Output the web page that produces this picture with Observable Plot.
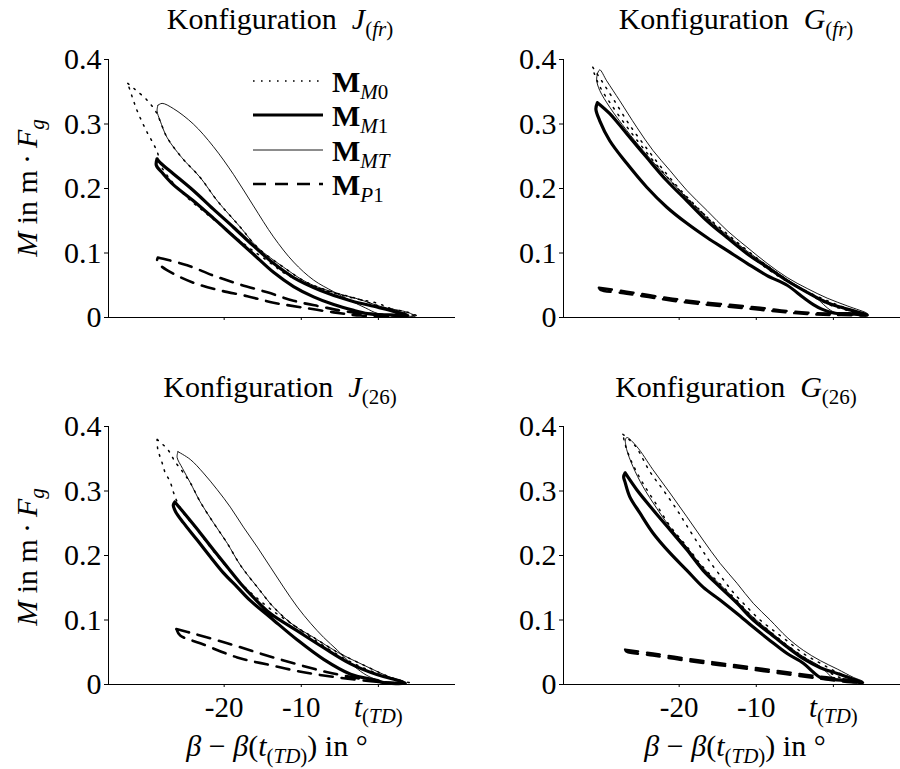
<!DOCTYPE html>
<html><head><meta charset="utf-8">
<script src="https://cdn.jsdelivr.net/npm/d3@7"></script>
<script src="https://cdn.jsdelivr.net/npm/@observablehq/plot@0.6"></script>
<style>
html,body{margin:0;padding:0;background:#fff;overflow:hidden;}
#fig{position:relative;width:900px;height:769px;overflow:hidden;font-family:"Liberation Serif","Times New Roman","DejaVu Serif",serif;color:#000;background:#fff;}
.abs{position:absolute;white-space:nowrap;line-height:30px;font-size:30px;}
.ctr{transform:translateX(-50%);}
.ylab{transform:translate(-50%,-50%) rotate(-90deg);}
sub{font-size:0.7em;vertical-align:-0.32em;line-height:0;}
.panel{position:absolute;}
</style></head><body><div id="fig"></div>
<script>
// ---- axis definitions ----
const xDomain = [-35, 10];
const yDomain = [0, 0.4];
const xTicks = [-20, -10, 0];
const xTickLabels = ["-20", "-10", "t(TD)"];
const yTicks = [0, 0.1, 0.2, 0.3, 0.4];
const yTickLabels = ["0", "0.1", "0.2", "0.3", "0.4"];
const seriesNames = ["M0", "M1", "MT", "P1"];

// ---- Konfiguration J_(fr) ----
const jfr_M0 = [[-32.5,0.363],[-31.6,0.354],[-30.0,0.337],[-28.8,0.318],[-28.1,0.298],[-27.4,0.279],[-25.5,0.248],[-23.1,0.217],[-20.9,0.181],[-17.9,0.140],[-15.7,0.109],[-12.3,0.078],[-9.2,0.054],[-5.8,0.039],[-2.7,0.029],[0.6,0.016],[3.8,0.008],[5.1,0.002],
  [2.0,0.012],[-0.1,0.022],[-3.6,0.031],[-7.9,0.046],[-11.8,0.066],[-14.4,0.088],[-17.0,0.110],[-19.6,0.135],[-22.2,0.160],[-24.8,0.186],[-27.0,0.214],[-28.3,0.238],[-28.6,0.254],[-29.2,0.270],[-29.9,0.285],[-30.6,0.302],[-31.3,0.321],[-31.9,0.341]];
const jfr_M1 = [[-28.7,0.246],[-28.3,0.240],[-26.6,0.223],[-24.0,0.197],[-21.4,0.168],[-18.8,0.140],[-16.2,0.111],[-13.6,0.084],[-11.0,0.062],[-7.5,0.042],[-3.6,0.026],[-0.1,0.016],[2.2,0.009],[3.8,0.003],
  [1.5,0.004],[0.3,0.004],[-1.4,0.006],[-3.2,0.011],[-5.8,0.020],[-8.4,0.032],[-11.0,0.048],[-13.6,0.070],[-16.2,0.098],[-18.8,0.126],[-21.4,0.154],[-24.0,0.181],[-26.6,0.206],[-28.0,0.224],[-28.8,0.236]];
const jfr_MT = [[-28.6,0.329],[-28.05,0.332],[-26.6,0.324],[-24.0,0.300],[-21.4,0.265],[-18.8,0.222],[-16.2,0.173],[-13.6,0.125],[-11.0,0.086],[-8.4,0.058],[-5.8,0.040],[-3.6,0.026],[-1.7,0.015],[0.0,0.006],[2.9,0.003],[4.8,0.002],
  [3.8,0.008],[0.6,0.016],[-2.7,0.029],[-5.8,0.039],[-9.2,0.054],[-12.3,0.078],[-15.7,0.109],[-17.9,0.140],[-20.9,0.181],[-23.1,0.217],[-25.5,0.248],[-27.4,0.279],[-28.3,0.305],[-28.7,0.320]];
const jfr_P1 = [[-28.6,0.093],[-27.9,0.091],[-24.8,0.081],[-21.4,0.065],[-17.9,0.051],[-14.4,0.039],[-11.0,0.026],[-7.5,0.017],[-4.0,0.009],[-0.1,0.005],[2.9,0.002],
  [-2.3,0.003],[-5.8,0.008],[-10.1,0.016],[-13.6,0.023],[-17.0,0.033],[-20.9,0.043],[-24.0,0.054],[-26.6,0.068],[-28.3,0.081],[-28.7,0.088]];

// ---- Konfiguration G_(fr) ----
const gfr_M0 = [[-31.2,0.388],[-30.0,0.366],[-28.5,0.338],[-26.4,0.298],[-24.2,0.262],[-22.0,0.228],[-19.7,0.196],[-17.1,0.164],[-14.5,0.133],[-11.9,0.107],[-9.3,0.082],[-6.6,0.060],[-3.9,0.043],[-1.0,0.027],[1.8,0.014],[4.4,0.004],
  [1.5,0.012],[-1.0,0.022],[-3.6,0.040],[-6.2,0.060],[-8.8,0.082],[-11.4,0.106],[-14.0,0.132],[-16.6,0.158],[-19.2,0.188],[-21.8,0.221],[-24.5,0.260],[-26.8,0.296],[-28.8,0.330],[-30.2,0.356],[-31.0,0.378]];
const gfr_M1 = [[-30.6,0.333],[-29.0,0.316],[-26.8,0.285],[-24.2,0.248],[-21.6,0.212],[-19.0,0.181],[-16.4,0.150],[-13.8,0.124],[-11.2,0.099],[-8.6,0.078],[-6.0,0.057],[-3.4,0.039],[-0.8,0.023],[1.8,0.013],[4.4,0.004],
  [2.0,0.006],[0.0,0.007],[-1.5,0.013],[-2.6,0.020],[-3.9,0.031],[-6.0,0.050],[-8.6,0.065],[-11.2,0.084],[-13.8,0.104],[-16.4,0.124],[-19.0,0.146],[-21.6,0.171],[-24.2,0.202],[-26.8,0.239],[-29.0,0.274],[-30.3,0.305],[-30.8,0.323]];
const gfr_MT = [[-30.6,0.378],[-30.3,0.384],[-29.4,0.367],[-27.7,0.336],[-25.5,0.295],[-23.4,0.259],[-21.2,0.228],[-19.0,0.197],[-16.4,0.166],[-13.8,0.135],[-11.2,0.109],[-8.6,0.084],[-6.0,0.062],[-3.4,0.045],[-0.8,0.030],[1.8,0.018],[4.4,0.006],
  [2.0,0.007],[0.2,0.008],[-0.8,0.015],[-1.8,0.026],[-3.4,0.040],[-6.0,0.059],[-8.6,0.081],[-11.2,0.103],[-13.8,0.128],[-16.4,0.154],[-19.0,0.185],[-21.6,0.218],[-24.7,0.259],[-26.8,0.290],[-29.0,0.326],[-30.3,0.352],[-30.7,0.368]];
const gfr_P1 = [[-30.4,0.046],[-26.8,0.040],[-22.5,0.032],[-18.2,0.025],[-13.8,0.020],[-9.5,0.015],[-5.2,0.009],[-0.8,0.006],[3.5,0.004],[4.4,0.003],
  [1.0,0.004],[-0.5,0.004],[-5.2,0.007],[-9.5,0.012],[-13.8,0.017],[-18.2,0.022],[-22.5,0.029],[-26.8,0.037],[-30.2,0.043]];

// ---- Konfiguration J_(26) ----
const j26_M0 = [[-28.7,0.380],[-27.3,0.364],[-26.4,0.346],[-25.4,0.330],[-24.4,0.313],[-23.1,0.283],[-21.4,0.251],[-19.6,0.219],[-17.9,0.185],[-15.7,0.151],[-13.6,0.120],[-11.0,0.092],[-8.4,0.073],[-5.3,0.050],[-1.9,0.030],[1.6,0.011],[3.2,0.005],[4.0,0.003],
  [2.0,0.008],[-0.1,0.017],[-3.6,0.035],[-7.1,0.060],[-10.5,0.088],[-14.0,0.117],[-16.6,0.143],[-18.3,0.163],[-20.1,0.188],[-21.8,0.213],[-23.5,0.240],[-25.3,0.266],[-26.2,0.286],[-26.6,0.299],[-27.0,0.314],[-27.7,0.330],[-28.1,0.346],[-28.6,0.364]];
const j26_M1 = [[-26.4,0.283],[-24.8,0.260],[-23.1,0.235],[-21.4,0.209],[-19.6,0.182],[-17.9,0.157],[-16.2,0.135],[-14.0,0.110],[-10.5,0.083],[-7.1,0.057],[-3.6,0.032],[-0.1,0.015],[2.9,0.005],[3.5,0.002],
  [0.6,0.003],[-0.1,0.006],[-3.6,0.016],[-7.1,0.039],[-10.5,0.069],[-14.0,0.104],[-16.6,0.130],[-18.3,0.151],[-20.1,0.173],[-21.8,0.198],[-23.5,0.224],[-25.3,0.251],[-26.3,0.268],[-26.6,0.278]];
const j26_MT = [[-26.0,0.361],[-24.4,0.349],[-22.7,0.328],[-20.9,0.302],[-19.2,0.275],[-17.5,0.244],[-15.7,0.213],[-14.0,0.182],[-12.3,0.151],[-10.5,0.120],[-8.8,0.095],[-7.1,0.073],[-5.3,0.053],[-3.6,0.033],[-1.9,0.017],[-0.6,0.009],[0.5,0.005],
  [3.2,0.005],[1.6,0.011],[-1.9,0.030],[-5.3,0.050],[-8.4,0.073],[-11.0,0.092],[-13.6,0.120],[-15.7,0.151],[-17.9,0.185],[-19.6,0.219],[-21.4,0.251],[-23.1,0.283],[-24.4,0.313],[-25.4,0.335],[-26.1,0.352]];
const j26_P1 = [[-26.2,0.086],[-24.0,0.079],[-19.6,0.064],[-15.3,0.048],[-11.0,0.033],[-6.6,0.019],[-2.3,0.009],[0.6,0.003],[2.0,0.002],
  [-1.0,0.005],[-5.3,0.011],[-9.7,0.019],[-14.0,0.030],[-18.3,0.042],[-23.1,0.064],[-25.7,0.076]];

// ---- Konfiguration G_(26) ----
const g26_M0 = [[-27.3,0.388],[-25.7,0.370],[-23.8,0.330],[-22.1,0.302],[-20.3,0.271],[-19.0,0.246],[-17.3,0.214],[-16.0,0.190],[-14.3,0.163],[-13.0,0.143],[-11.2,0.120],[-9.5,0.100],[-7.8,0.084],[-5.6,0.064],[-3.9,0.048],[-1.7,0.033],[0.5,0.019],[2.6,0.009],[3.8,0.004],
  [1.0,0.010],[-1.7,0.027],[-3.9,0.043],[-6.0,0.061],[-8.2,0.082],[-10.4,0.104],[-12.5,0.130],[-14.7,0.156],[-16.9,0.182],[-19.0,0.214],[-21.2,0.246],[-23.0,0.280],[-24.8,0.314],[-26.2,0.346],[-27.0,0.372]];
const g26_M1 = [[-27.0,0.328],[-25.5,0.302],[-23.4,0.271],[-21.2,0.240],[-19.0,0.209],[-16.9,0.177],[-14.7,0.151],[-12.5,0.126],[-10.4,0.100],[-8.2,0.079],[-6.0,0.058],[-3.9,0.040],[-1.7,0.026],[0.5,0.017],[2.6,0.008],[3.8,0.003],
  [1.5,0.006],[0.0,0.008],[-1.7,0.011],[-2.6,0.019],[-3.9,0.033],[-6.0,0.048],[-8.2,0.068],[-10.4,0.089],[-12.5,0.110],[-14.7,0.131],[-16.9,0.151],[-19.0,0.177],[-21.2,0.204],[-23.4,0.235],[-25.1,0.266],[-26.4,0.291],[-27.0,0.313],[-27.2,0.322]];
const g26_MT = [[-27.0,0.378],[-26.8,0.383],[-25.5,0.369],[-23.4,0.333],[-21.2,0.297],[-19.0,0.260],[-16.9,0.224],[-14.7,0.188],[-12.5,0.157],[-10.4,0.126],[-8.2,0.100],[-6.0,0.073],[-3.9,0.053],[-1.7,0.037],[0.5,0.024],[2.6,0.011],[3.8,0.005],
  [1.0,0.008],[0.0,0.010],[-1.7,0.028],[-3.9,0.043],[-6.0,0.061],[-8.2,0.082],[-10.4,0.104],[-12.5,0.129],[-14.7,0.155],[-16.9,0.181],[-19.0,0.213],[-21.2,0.244],[-22.9,0.273],[-24.7,0.307],[-26.0,0.338],[-26.8,0.364]];
const g26_P1 = [[-27.0,0.054],[-23.4,0.048],[-19.0,0.040],[-14.7,0.033],[-10.4,0.026],[-6.0,0.019],[-1.7,0.012],[2.6,0.006],[3.5,0.003],
  [1.0,0.005],[-1.7,0.009],[-6.0,0.016],[-10.4,0.023],[-14.7,0.030],[-19.0,0.037],[-23.4,0.045],[-26.8,0.051]];

// ---- styles ----
const styles = {
  M0: {strokeWidth: 1.5, strokeDasharray: "1.6,6.4"},
  M1: {strokeWidth: 3.2, strokeDasharray: null},
  MT: {strokeWidth: 0.9, strokeDasharray: null},
  P1: {strokeWidth: 2.6, strokeDasharray: "13,9"}
};
const drawOrder = ["MT", "M0", "P1", "M1"];
const closeLoop = a => a.concat([a[0]]);
const FONT = '"Liberation Serif", "Times New Roman", "DejaVu Serif", serif';

const fig = document.getElementById("fig");

function subTD(textEl) {
  textEl.textContent = "";
  const ns = "http://www.w3.org/2000/svg";
  const t = document.createElementNS(ns, "tspan");
  t.setAttribute("font-style", "italic"); t.textContent = "t";
  const s = document.createElementNS(ns, "tspan");
  s.setAttribute("font-size", "0.72em"); s.setAttribute("dy", "0.28em");
  s.appendChild(document.createTextNode("("));
  const it = document.createElementNS(ns, "tspan");
  it.setAttribute("font-style", "italic"); it.textContent = "TD";
  s.appendChild(it);
  s.appendChild(document.createTextNode(")"));
  textEl.appendChild(t); textEl.appendChild(s);
}

function panel(series, left, top, bottomLabels) {
  const marks = [
    Plot.ruleX([xDomain[0]], {y1: yDomain[0], y2: yDomain[1], stroke: "black", strokeWidth: 1}),
    Plot.ruleY([0], {x1: xDomain[0], x2: xDomain[1], stroke: "black", strokeWidth: 1}),
    Plot.axisY({ticks: yTicks, tickSize: 4, tickPadding: 3, label: null,
      tickFormat: d => yTickLabels[yTicks.indexOf(d)]}),
    Plot.axisX({ticks: xTicks, tickSize: 3, tickPadding: 9, label: null, fontSize: 29,
      tickFormat: d => bottomLabels ? xTickLabels[xTicks.indexOf(d)] : ""})
  ];
  for (const name of drawOrder) {
    const st = styles[name];
    const opts = {x: d => d[0], y: d => d[1], curve: "catmull-rom", stroke: "black",
      strokeWidth: st.strokeWidth, strokeLinejoin: "round"};
    if (st.strokeDasharray) opts.strokeDasharray = st.strokeDasharray;
    marks.push(Plot.line(closeLoop(series[name]), opts));
  }
  const svg = Plot.plot({
    width: 460,
    height: bottomLabels ? 327 : 287,
    marginLeft: 108, marginRight: 5, marginTop: 19, marginBottom: bottomLabels ? 50 : 10,
    x: {domain: xDomain},
    y: {domain: yDomain},
    style: {fontFamily: FONT, fontSize: "30px", color: "black", background: "transparent", overflow: "visible"},
    marks
  });
  svg.setAttribute("font-family", FONT);
  svg.querySelectorAll("text").forEach(t => { if (t.textContent === "t(TD)") subTD(t); });
  svg.classList.add("panel");
  svg.style.left = left + "px";
  svg.style.top = top + "px";
  fig.appendChild(svg);
}

panel({M0: jfr_M0, M1: jfr_M1, MT: jfr_MT, P1: jfr_P1}, 0, 40, false);
panel({M0: gfr_M0, M1: gfr_M1, MT: gfr_MT, P1: gfr_P1}, 455, 40, false);
panel({M0: j26_M0, M1: j26_M1, MT: j26_MT, P1: j26_P1}, 0, 407, true);
panel({M0: g26_M0, M1: g26_M1, MT: g26_MT, P1: g26_P1}, 455, 407, true);

// ---- text overlays ----
function addHTML(html, cls, css) {
  const d = document.createElement("div");
  d.className = "abs " + cls;
  d.innerHTML = html;
  Object.assign(d.style, css);
  fig.appendChild(d);
  return d;
}
const titles = [
  ["Konfiguration&nbsp; <i>J</i><sub>(<i>fr</i>)</sub>", 280, 4],
  ["Konfiguration&nbsp; <i>G</i><sub>(<i>fr</i>)</sub>", 736, 4],
  ["Konfiguration&nbsp; <i>J</i><sub>(26)</sub>", 280, 372],
  ["Konfiguration&nbsp; <i>G</i><sub>(26)</sub>", 736, 372]
];
titles.forEach(([h, x, y]) => addHTML(h, "ctr", {left: x + "px", top: y + "px"}));

const yLabel = "<i>M</i> in m&thinsp;·&thinsp;<i>F</i><sub><i>g</i></sub>";
addHTML(yLabel, "ylab", {left: "27px", top: "188px"});
addHTML(yLabel, "ylab", {left: "27px", top: "557px"});

const xLabel = "<i>β</i> − <i>β</i>(<i>t</i><sub>(<i>TD</i>)</sub>) in °";
addHTML(xLabel, "ctr", {left: "277px", top: "731px"});
addHTML(xLabel, "ctr", {left: "735px", top: "731px"});

// ---- legend (top-left panel) ----
const legendLabels = {
  M0: "<b>M</b><sub><i>M</i>0</sub>",
  M1: "<b>M</b><sub><i>M</i>1</sub>",
  MT: "<b>M</b><sub><i>MT</i></sub>",
  P1: "<b>M</b><sub><i>P</i>1</sub>"
};
const legendRowsY = [81, 115, 150, 184];
seriesNames.forEach((name, i) => {
  const y = legendRowsY[i];
  const st = styles[name];
  const s = document.createElementNS("http://www.w3.org/2000/svg", "svg");
  s.setAttribute("width", 72); s.setAttribute("height", 10);
  s.style.position = "absolute"; s.style.left = "252px"; s.style.top = (y - 5) + "px";
  const l = document.createElementNS("http://www.w3.org/2000/svg", "line");
  l.setAttribute("x1", 1); l.setAttribute("x2", 71); l.setAttribute("y1", 5); l.setAttribute("y2", 5);
  l.setAttribute("stroke", "black"); l.setAttribute("stroke-width", st.strokeWidth);
  if (st.strokeDasharray) l.setAttribute("stroke-dasharray", st.strokeDasharray);
  s.appendChild(l);
  fig.appendChild(s);
  addHTML(legendLabels[name], "", {left: "332px", top: (y - 14) + "px"});
});
</script></body></html>
